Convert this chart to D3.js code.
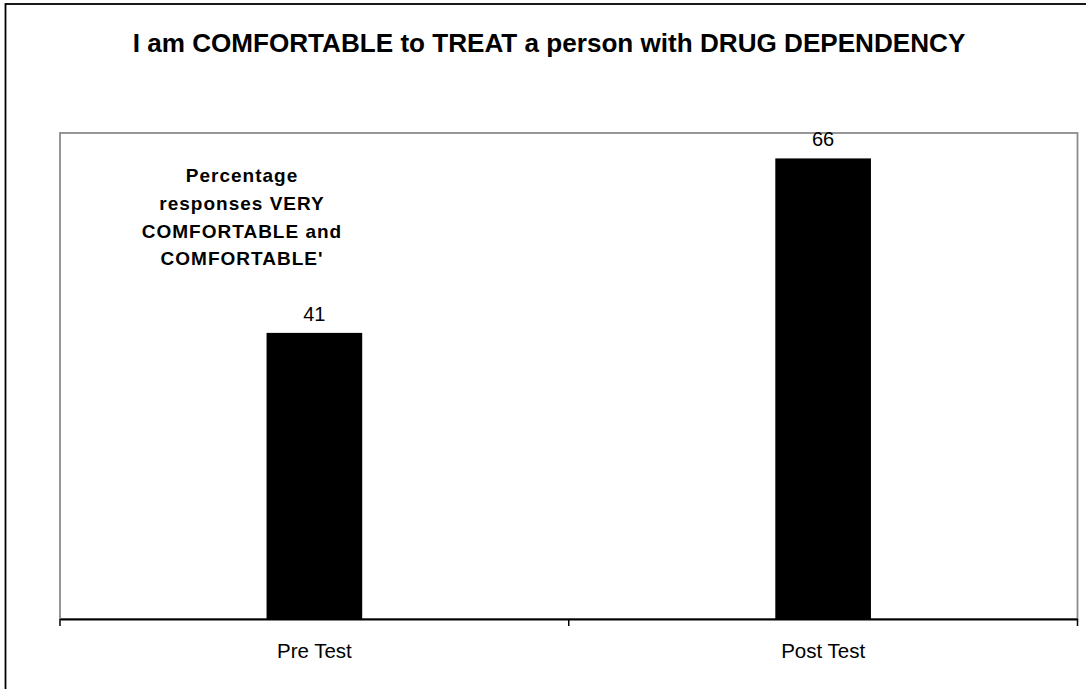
<!DOCTYPE html>
<html>
<head>
<meta charset="utf-8">
<script src="https://cdn.jsdelivr.net/npm/d3@7"></script>
<style>
  html, body { margin: 0; padding: 0; background: #fff; }
  svg { display: block; font-family: "Liberation Sans", Arial, sans-serif; }
</style>
</head>
<body>
<svg id="chart" width="1086" height="689"></svg>
<script>
const title = "I am COMFORTABLE to TREAT a person with DRUG DEPENDENCY";
const categories = ["Pre Test", "Post Test"];
const values = [41, 66];
const noteLines = ["Percentage", "responses VERY", "COMFORTABLE and", "COMFORTABLE'"];
const yDomain = [0, 70];

const svg = d3.select("#chart");
const W = 1086, H = 689;
const plot = { left: 60, right: 1077.5, top: 133, bottom: 619 };

// outer chart border (extends beyond the picture on right and bottom)
svg.append("rect")
  .attr("x", 5.5).attr("y", 4)
  .attr("width", W + 20).attr("height", H + 20)
  .attr("fill", "#fff").attr("stroke", "#000").attr("stroke-width", 1.8);

const x = d3.scaleBand().domain(categories).range([plot.left, plot.right]).padding(0);
const y = d3.scaleLinear().domain(yDomain).range([plot.bottom, plot.top - 2.5]);

// plot area frame
svg.append("rect")
  .attr("x", plot.left).attr("y", plot.top)
  .attr("width", plot.right - plot.left)
  .attr("height", plot.bottom - plot.top)
  .attr("fill", "none").attr("stroke", "#8c8c8c").attr("stroke-width", 1.8);

// title
svg.append("text")
  .attr("x", 549).attr("y", 52)
  .attr("text-anchor", "middle")
  .attr("font-size", 26.1).attr("font-weight", "bold")
  .attr("fill", "#000")
  .text(title);

// bars
const barW = x.bandwidth() * 0.188;
const data = categories.map((c, i) => ({ c, v: values[i] }));
svg.selectAll("rect.bar").data(data).enter().append("rect")
  .attr("class", "bar")
  .attr("x", d => x(d.c) + x.bandwidth() / 2 - barW / 2)
  .attr("y", d => y(d.v))
  .attr("width", barW)
  .attr("height", d => y(0) - y(d.v))
  .attr("fill", "#000");

// value labels
svg.selectAll("text.val").data(data).enter().append("text")
  .attr("class", "val")
  .attr("x", d => x(d.c) + x.bandwidth() / 2)
  .attr("y", d => y(d.v) - 12)
  .attr("text-anchor", "middle")
  .attr("font-size", 20)
  .attr("fill", "#000")
  .text(d => d.v);

// x axis
const axis = d3.axisBottom(x).tickSize(0).tickPadding(0).tickFormat("");
const gAx = svg.append("g").attr("transform", `translate(0,${y(0)})`).call(axis);
gAx.select(".domain").attr("stroke", "#000").attr("stroke-width", 1.8);
// boundary ticks between categories
const bounds = [x.range()[0]].concat(categories.map(c => x(c) + x.bandwidth()));
gAx.selectAll("line.bt").data(bounds).enter().append("line")
  .attr("class", "bt")
  .attr("x1", d => d).attr("x2", d => d)
  .attr("y1", 0).attr("y2", 7)
  .attr("stroke", "#000").attr("stroke-width", 1.5);
gAx.selectAll("text.cat").data(categories).enter().append("text")
  .attr("class", "cat")
  .attr("x", d => x(d) + x.bandwidth() / 2)
  .attr("y", 39)
  .attr("text-anchor", "middle")
  .attr("font-size", 20.5)
  .attr("font-family", "Liberation Sans, Arial, sans-serif")
  .attr("fill", "#000")
  .text(d => d);

// annotation text
const note = svg.append("text")
  .attr("text-anchor", "middle")
  .attr("font-size", 19).attr("font-weight", "bold")
  .attr("letter-spacing", 1)
  .attr("fill", "#000");
noteLines.forEach((t, i) => {
  note.append("tspan").attr("x", 242).attr("y", 182 + i * 27.8).text(t);
});
</script>
</body>
</html>
